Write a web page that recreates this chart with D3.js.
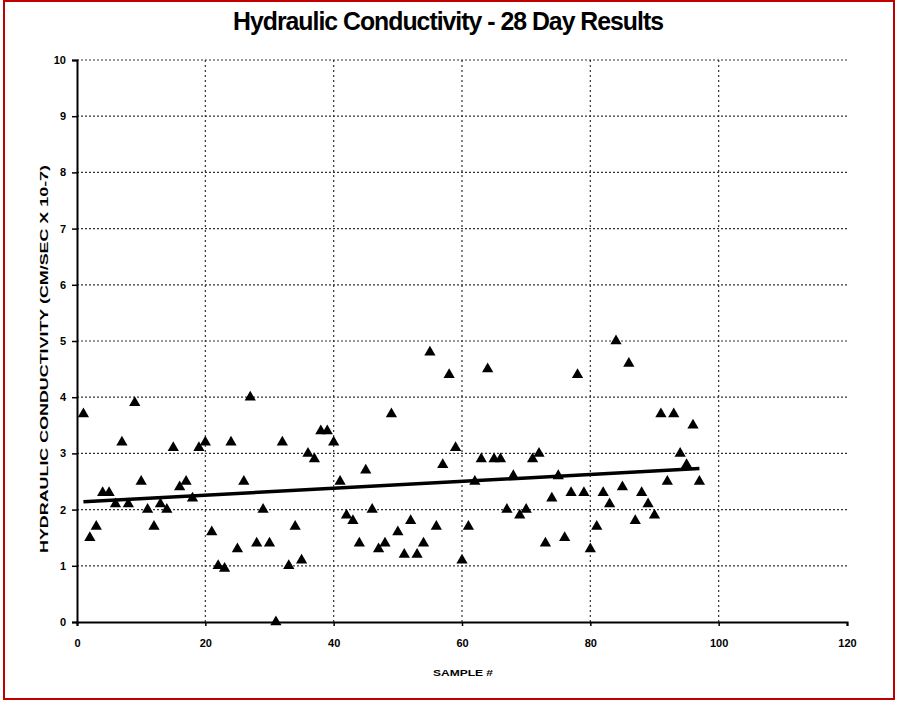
<!DOCTYPE html>
<html>
<head>
<meta charset="utf-8">
<script src="https://cdn.jsdelivr.net/npm/d3@7"></script>
<style>
  body { margin: 0; background: #fff; }
  svg { display: block; }
  .tick text { font-family: "Liberation Sans", Arial, sans-serif; font-weight: bold; font-size: 11px; }
</style>
</head>
<body>
<div id="chart"></div>
<script>
// sample numbers and 28 day conductivity values (cm/sec x 10^-7)
const sampleNo = [1,2,3,4,5,6,7,8,9,10,11,12,13,14,15,16,17,18,19,20,
  21,22,23,24,25,26,27,28,29,30,31,32,33,34,35,36,37,38,39,40,
  41,42,43,44,45,46,47,48,49,50,51,52,53,54,55,56,57,58,59,60,
  61,62,63,64,65,66,67,68,69,70,71,72,73,74,75,76,77,78,79,80,
  81,82,83,84,85,86,87,88,89,90,91,92,93,94,95,96,97];
const conductivity = [3.7,1.5,1.7,2.3,2.3,2.1,3.2,2.1,3.9,2.5,2.0,1.7,2.1,2.0,3.1,2.4,2.5,2.2,3.1,3.2,
  1.6,1.0,0.95,3.2,1.3,2.5,4.0,1.4,2.0,1.4,0.0,3.2,1.0,1.7,1.1,3.0,2.9,3.4,3.4,3.2,
  2.5,1.9,1.8,1.4,2.7,2.0,1.3,1.4,3.7,1.6,1.2,1.8,1.2,1.4,4.8,1.7,2.8,4.4,3.1,1.1,
  1.7,2.5,2.9,4.5,2.9,2.9,2.0,2.6,1.9,2.0,2.9,3.0,1.4,2.2,2.6,1.5,2.3,4.4,2.3,1.3,
  1.7,2.3,2.1,5.0,2.4,4.6,1.8,2.3,2.1,1.9,3.7,2.5,3.7,3.0,2.8,3.5,2.5];
// linear trend end points
const trendX = [1, 97];
const trendY = [2.14, 2.73];
const xTicks = [0, 20, 40, 60, 80, 100, 120];
const yTicks = [0,1,2,3,4,5,6,7,8,9,10];

const W = 897, H = 702;
const margin = {left: 77, top: 60, right: 50, bottom: 80};

const svg = d3.select('#chart').append('svg')
  .attr('width', W).attr('height', H);

// red frame round the whole picture
svg.append('rect')
  .attr('x', 4).attr('y', 1).attr('width', W - 7).attr('height', H - 4)
  .attr('fill', '#fff').attr('stroke', '#c00000').attr('stroke-width', 2);

const x = d3.scaleLinear().domain([0, 120]).range([margin.left, W - margin.right]);
const y = d3.scaleLinear().domain([0, 10]).range([H - margin.bottom, margin.top]);

// dotted grid
svg.append('g').selectAll('line')
  .data(yTicks.filter(d => d > 0))
  .enter().append('line')
  .attr('x1', x(0)).attr('x2', x(120))
  .attr('y1', d => y(d)).attr('y2', d => y(d))
  .attr('stroke', '#333').attr('stroke-width', 1.2).attr('stroke-dasharray', '2,2');
svg.append('g').selectAll('line')
  .data(xTicks.filter(d => d > 0 && d < 120))
  .enter().append('line')
  .attr('x1', d => x(d)).attr('x2', d => x(d))
  .attr('y1', y(0)).attr('y2', y(10))
  .attr('stroke', '#333').attr('stroke-width', 1.2).attr('stroke-dasharray', '2,3');

// axes
const yAxis = svg.append('g')
  .attr('transform', `translate(${x(0)},0)`)
  .call(d3.axisLeft(y).tickValues(yTicks).tickSize(5).tickPadding(6));
const xAxis = svg.append('g')
  .attr('transform', `translate(0,${y(0)})`)
  .call(d3.axisBottom(x).tickValues(xTicks).tickSize(4).tickPadding(13));
[yAxis, xAxis].forEach(a => {
  a.select('.domain').attr('stroke', '#000').attr('stroke-width', 2);
  a.selectAll('.tick line').attr('stroke', '#000').attr('stroke-width', 1.5);
  a.selectAll('.tick text').attr('fill', '#000');
});

// trend line
const line = d3.line().x(d => x(d[0])).y(d => y(d[1]));
svg.append('path')
  .datum(trendX.map((d, i) => [d, trendY[i]]))
  .attr('d', line)
  .attr('fill', 'none').attr('stroke', '#000').attr('stroke-width', 3.5);

// triangles
svg.append('g').selectAll('path')
  .data(sampleNo.map((d, i) => ({s: d, v: conductivity[i]})))
  .enter().append('path')
  .attr('d', d3.symbol(d3.symbolTriangle).size(55))
  .attr('transform', d => `translate(${x(d.s)},${y(d.v)})`)
  .attr('fill', '#000');

// title and labels
const font = '"Liberation Sans Narrow", "Liberation Sans", Arial, sans-serif';
svg.append('text')
  .attr('x', 448).attr('y', 30)
  .attr('text-anchor', 'middle')
  .attr('font-family', font).attr('font-weight', 'bold').attr('font-size', 25)
  .attr('textLength', 430).attr('lengthAdjust', 'spacingAndGlyphs')
  .attr('letter-spacing', -1)
  .text('Hydraulic Conductivity - 28 Day Results');

svg.append('text')
  .attr('transform', `translate(48,${(y(0) + y(10)) / 2 + 18}) rotate(-90)`)
  .attr('text-anchor', 'middle')
  .attr('font-family', font).attr('font-weight', 'bold').attr('font-size', 11)
  .attr('textLength', 388).attr('lengthAdjust', 'spacingAndGlyphs')
  .text('HYDRAULIC CONDUCTIVITY (CM/SEC  X 10-7)');

svg.append('text')
  .attr('x', 463).attr('y', 676)
  .attr('text-anchor', 'middle')
  .attr('font-family', font).attr('font-weight', 'bold').attr('font-size', 9)
  .attr('textLength', 60).attr('lengthAdjust', 'spacingAndGlyphs')
  .text('SAMPLE #');
</script>
</body>
</html>
